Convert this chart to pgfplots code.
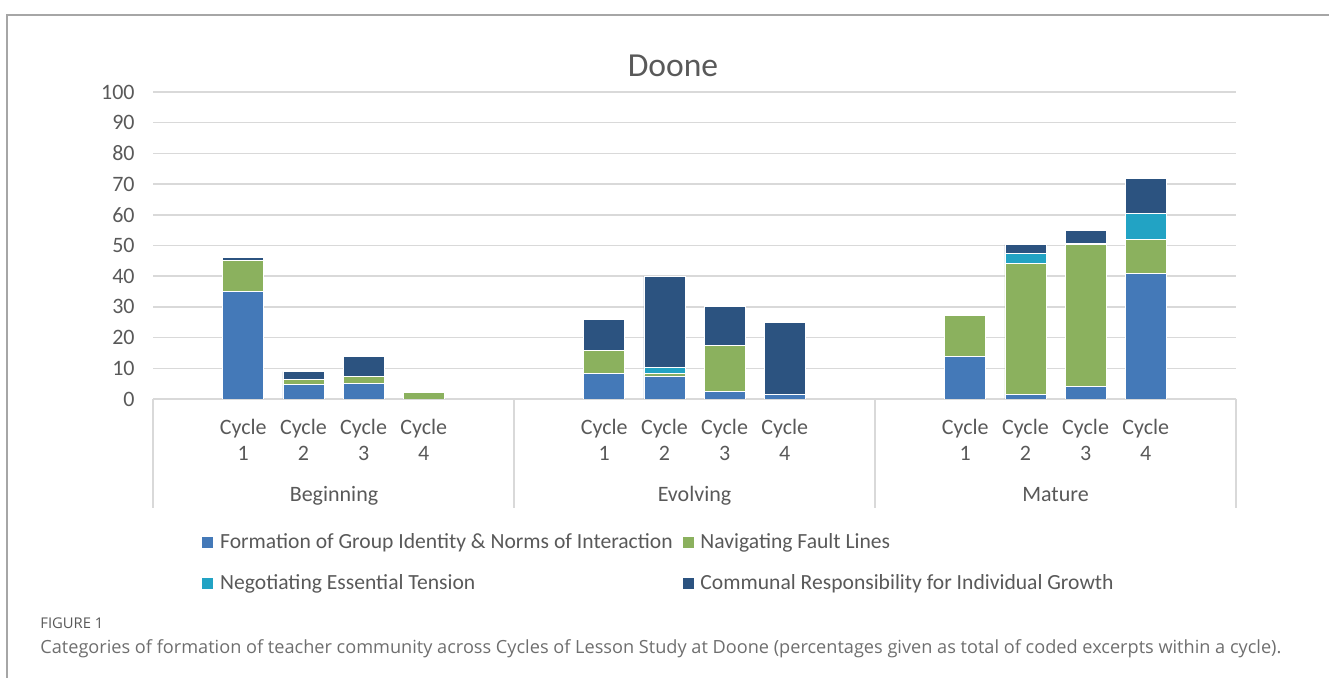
\documentclass[border=0pt]{standalone}
\usepackage{fontspec}
\setmainfont{Carlito}
\newfontfamily\capfont{Open Sans}
\usepackage{pgfplots}
\pgfplotsset{compat=1.18}
\usepackage{pgfplotstable}
\definecolor{cA}{HTML}{4479B8}
\definecolor{cB}{HTML}{8BB15E}
\definecolor{cC}{HTML}{22A3C4}
\definecolor{cD}{HTML}{2C5380}
\definecolor{txt}{HTML}{595959}
\definecolor{gridc}{HTML}{D9D9D9}
\definecolor{framec}{HTML}{A6A6A6}
\definecolor{capc}{HTML}{6E6E6E}

\pgfplotstableread{
x  A     B     C    D
1  35.0  10.0  0    1.1
2  4.8   1.7   0    2.4
3  5.0   2.3   0    6.7
4  0     2.0   0    0.6
7  8.4   7.3   0    10.1
8  7.5   0.9   1.8  29.8
9  2.4   15.1  0    12.6
10 1.6   0     0    23.2
13 14.0  13.3  0    0
14 1.6   42.5  3.2  3.0
15 4.2   46.2  0.4  4.1
16 40.9  11.1  8.5  11.4
}\data

\pgfplotsset{sqlegend/.style={legend image code/.code={\fill[##1] (0pt,-3pt) rectangle (6pt,3pt);}}}

\begin{document}
\begin{tikzpicture}[x=0.5pt,y=0.5pt]
\useasboundingbox (0,0) rectangle (1329,678);
\draw[framec, line width=1pt] (7,0) -- (7,663) -- (1329,663);
\draw[gridc, line width=0.75pt] (153,279) -- (1236,279);
\foreach \xx in {153,514,875,1236} {\draw[gridc, line width=0.75pt] (\xx,279) -- (\xx,170);}
\begin{axis}[
  at={(76.5pt,139.5pt)}, anchor=south west,
  scale only axis, width=541.5pt, height=153.5pt,
  xmin=-0.5, xmax=17.5, ymin=0, ymax=100,
  ybar stacked, bar width=20.5pt,
  axis line style={draw=none},
  major tick length=0pt,
  ytick={0,10,...,100},
  ymajorgrids, grid style={gridc, line width=0.75pt},
  xtick={1,2,3,4,7,8,9,10,13,14,15,16},
  xticklabels={Cycle\\1,Cycle\\2,Cycle\\3,Cycle\\4,Cycle\\1,Cycle\\2,Cycle\\3,Cycle\\4,Cycle\\1,Cycle\\2,Cycle\\3,Cycle\\4},
  /pgf/number format/assume math mode=true,
  ticklabel style={font=\fontsize{11}{13}\selectfont, text=txt},
  yticklabel style={anchor=east, inner sep=0pt, xshift=-9pt},
  xticklabel style={anchor=north, align=center, inner sep=0pt, yshift=-10pt},
  legend columns=2, legend cell align=left,
  legend style={draw=none, fill=none, inner sep=0pt, at={(0.0443,-0.4365)}, anchor=north west,
    font=\fontsize{10.8}{13}\selectfont, text=txt, row sep=11.5pt,
    nodes={inner sep=0pt},
    /tikz/every odd column/.append style={column sep=3pt},
    /tikz/every even column/.append style={column sep=4.5pt}},
]
\addplot[sqlegend, fill=cA, draw=white, line width=0.4pt] table[x=x,y=A] {\data};
\addlegendentry{Formation of Group Identity \& Norms of Interaction}
\addplot[sqlegend, fill=cB, draw=white, line width=0.4pt] table[x=x,y=B] {\data};
\addlegendentry{Navigating Fault Lines}
\addplot[sqlegend, fill=cC, draw=white, line width=0.4pt] table[x=x,y=C] {\data};
\addlegendentry{Negotiating Essential Tension}
\addplot[sqlegend, fill=cD, draw=white, line width=0.4pt] table[x=x,y=D] {\data};
\addlegendentry{Communal Responsibility for Individual Growth}
\end{axis}
\node[anchor=base, font=\fontsize{16.8}{20}\selectfont, text=txt] at (673,601) {Doone};
\node[anchor=base, font=\fontsize{11}{13}\selectfont, text=txt] at (334,176) {Beginning};
\node[anchor=base, font=\fontsize{11}{13}\selectfont, text=txt] at (694.5,176) {Evolving};
\node[anchor=base, font=\fontsize{11}{13}\selectfont, text=txt] at (1055.5,176) {Mature};
\node[anchor=base west, inner sep=0pt, text=txt] at (40,49) {\resizebox{31.5pt}{!}{\capfont FIGURE 1}};
\node[anchor=base west, inner sep=0pt, text=capc] at (40,24) {\resizebox{620.5pt}{!}{\capfont Categories of formation of teacher community across Cycles of Lesson Study at Doone (percentages given as total of coded excerpts within a cycle).}};
\end{tikzpicture}
\end{document}
